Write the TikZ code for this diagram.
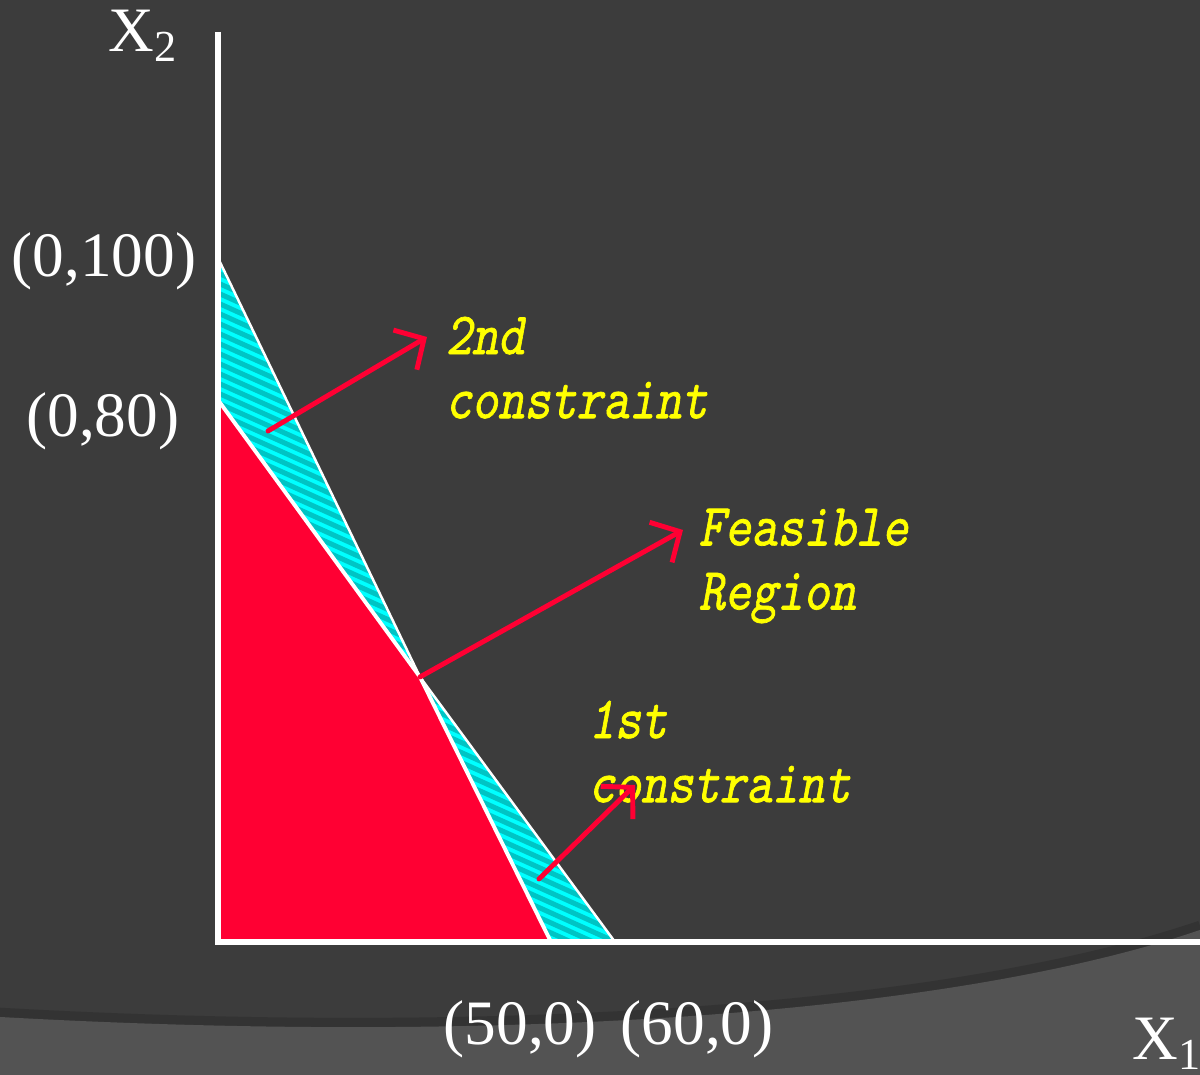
\documentclass[tikz,border=0pt]{standalone}
\usepackage{fontspec}
\setmainfont{Liberation Serif}
\newfontfamily\hinweisfont{lmmono10-regular.otf}[FakeSlant=0.22, FakeBold=1.2]
\usepackage{tikz}
\usetikzlibrary{arrows.meta, positioning}
\definecolor{hintergrund}{HTML}{3C3C3C}
\definecolor{boden}{HTML}{535353}
\definecolor{schatten}{HTML}{333333}
\definecolor{zulaessig}{HTML}{FF0033}
\definecolor{tuerkis}{HTML}{00FFFF}
\definecolor{tuerkisdunkel}{HTML}{00C4C4}
\definecolor{gelb}{HTML}{FFFF00}

\begin{document}
\begin{tikzpicture}[
        wert/.style={white, inner sep=0pt, font=\fontsize{18}{21}\selectfont},
        hinweis/.style={gelb, inner sep=0pt, align=left, anchor=north west,
                        yscale=1.2, transform shape,
                        font=\fontsize{14.2}{15.2}\selectfont\hinweisfont},
        pfeil/.style={zulaessig, line width=1.4pt, line cap=round,
                      -{Straight Barb[length=2.2mm, width=4.6mm]}},
      ]
      \useasboundingbox (0,0) rectangle (12,10.75);
      \fill[hintergrund] (0,0) rectangle (12,10.75);

      % Boden (heller Bogen unten)
      \draw[schatten, line width=3pt]
        (0,0.62) .. controls (5,0.34) and (9.5,0.64) .. (12,1.49);
      \fill[boden]
        (0,0) -- (0,0.58) .. controls (5,0.3) and (9.5,0.6) .. (12,1.45) -- (12,0) -- cycle;

      % Eckpunkte
      \coordinate (O) at (2.18,1.33);
      \coordinate (ytop) at (2.18,10.43);
      \coordinate (xend) at (12.1,1.33);
      \coordinate (A0) at (2.18,8.17);
      \coordinate (B0) at (2.18,6.75);
      \coordinate (I) at (4.20,3.98);
      \coordinate (A1) at (5.51,1.33);
      \coordinate (B1) at (6.15,1.33);

      % Nebenbedingungen (gestreift)
      \fill[tuerkis] (O) -- (A0) -- (I) -- (B1) -- cycle;
      \begin{scope}
        \clip (O) -- (A0) -- (I) -- (B1) -- cycle;
        \foreach \k in {0,...,100} {
          \draw[tuerkisdunkel, line width=0.05cm] (2,{1+0.1*\k}) -- ++(5,-2.25);
        }
      \end{scope}

      % zulaessiger Bereich
      \fill[zulaessig] (O) -- (B0) -- (I) -- (A1) -- cycle;
      \draw[white, line width=0.7pt] (A0) -- (I) -- (B1);
      \draw[white, line width=1.1pt] (B0) -- (I) -- (A1);

      % Achsen
      \draw[white, line width=1.5pt] (ytop) -- (O) -- (xend);

      % Beschriftung
      \node[wert, anchor=base east] (p100) at (1.97,7.98) {(0,100)};
      \node[wert, anchor=base east] (p80) at (1.80,6.38) {(0,80)};
      \node[wert, anchor=base west] (x2) at (1.08,10.23) {X\textsubscript{2}};
      \node[wert, anchor=base west] (p50) at (4.43,0.30) {(50,0)};
      \node[wert, anchor=base west] (p60) at (6.20,0.30) {(60,0)};
      \node[wert, anchor=base west] (x1) at (11.32,0.15) {X\textsubscript{1}};

      \node[hinweis] (zweite) at (4.45,7.59) {2nd\\constraint};
      \node[hinweis] (bereich) at (6.98,5.67) {Feasible\\Region};
      \node[hinweis] (erste) at (5.88,3.75) {1st\\constraint};

      % Pfeile
      \coordinate (z1) at (2.68,6.44);
      \coordinate (z2) at (4.27,7.38);
      \coordinate (b2) at (6.83,5.45);
      \coordinate (e1) at (5.39,1.96);
      \coordinate (e2) at (6.35,2.90);
      \draw[pfeil] (z1) -- (z2);
      \draw[pfeil] (I) -- (b2);
      \draw[pfeil] (e1) -- (e2);
    \end{tikzpicture}
\end{document}
